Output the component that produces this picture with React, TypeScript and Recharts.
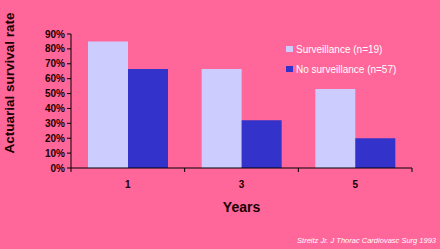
import { BarChart, Bar, XAxis, YAxis, Label } from 'recharts';

const years = ['1', '3', '5'];
const surveillance = [0.85, 0.665, 0.53];
const noSurveillance = [0.665, 0.32, 0.2];
const yTicks = [0, 0.1, 0.2, 0.3, 0.4, 0.5, 0.6, 0.7, 0.8, 0.9];
const legendItems = [
  { label: 'Surveillance (n=19)', color: '#CCCCFF' },
  { label: 'No surveillance (n=57)', color: '#3333CC' },
];

const data = years.map((y, i) => ({
  year: y,
  surv: surveillance[i],
  noSurv: noSurveillance[i],
}));

const FONT = '"Liberation Sans", Arial, sans-serif';

function XTick(props: any) {
  const { x, y, payload, index, width, visibleTicksCount } = props;
  const n = visibleTicksCount || 3;
  const band = width / n;
  const left = x - band / 2;
  return (
    <g>
      <line x1={left} x2={left} y1={y - 8} y2={y - 4} stroke="#000" />
      {index === n - 1 && (
        <line x1={x + band / 2} x2={x + band / 2} y1={y - 8} y2={y - 4} stroke="#000" />
      )}
      <text x={x} y={y + 12} textAnchor="middle" fontFamily={FONT} fontWeight="bold" fontSize={10} fill="#1a0000">
        {payload.value}
      </text>
    </g>
  );
}

export default function App() {
  return (
    <div style={{ position: 'absolute', left: 0, top: 0, width: 440, height: 249, background: '#FF6699' }}>
      <BarChart
        width={440}
        height={249}
        data={data}
        margin={{ top: 34, right: 28, left: 0, bottom: 31 }}
        barGap={0}
        barCategoryGap="15%"
      >
        <XAxis
          dataKey="year"
          axisLine={{ stroke: '#000' }}
          tickLine={false}
          tick={<XTick />}
          height={50}
        >
          <Label
            value="Years"
            position="insideBottom"
            offset={6}
            style={{ fontFamily: FONT, fontWeight: 'bold', fontSize: 14, fill: '#1a0000' }}
          />
        </XAxis>
        <YAxis
          width={71}
          domain={[0, 0.9]}
          ticks={yTicks}
          interval={0}
          axisLine={{ stroke: '#000' }}
          tickLine={{ stroke: '#000' }}
          tickSize={4}
          tick={{ fontFamily: FONT, fontWeight: 'bold', fontSize: 10, fill: '#1a0000' }}
          tickFormatter={(v: number) => `${Math.round(v * 100)}%`}
        />
        <Bar dataKey="surv" name="Surveillance (n=19)" fill="#CCCCFF" barSize={40} isAnimationActive={false} />
        <Bar dataKey="noSurv" name="No surveillance (n=57)" fill="#3333CC" barSize={40} isAnimationActive={false} />
        <text
          transform="translate(14, 83) rotate(-90)"
          textAnchor="middle"
          fontFamily={FONT}
          fontWeight="bold"
          fontSize={13.5}
          fill="#1a0000"
        >
          Actuarial survival rate
        </text>
        <text x={436} y={243} textAnchor="end" fontFamily={FONT} fontStyle="italic" fontSize={7.5} fill="#FFFFFF">
          Streitz Jr. J Thorac Cardiovasc Surg 1993
        </text>
      </BarChart>
      <div style={{ position: 'absolute', left: 286, top: 39, fontFamily: FONT, fontSize: 10, color: '#FFFFFF' }}>
        {legendItems.map((it) => (
          <div key={it.label} style={{ display: 'flex', alignItems: 'center', height: 20 }}>
            <span style={{ display: 'inline-block', width: 7, height: 6, background: it.color, marginRight: 3 }} />
            <span>{it.label}</span>
          </div>
        ))}
      </div>
    </div>
  );
}
